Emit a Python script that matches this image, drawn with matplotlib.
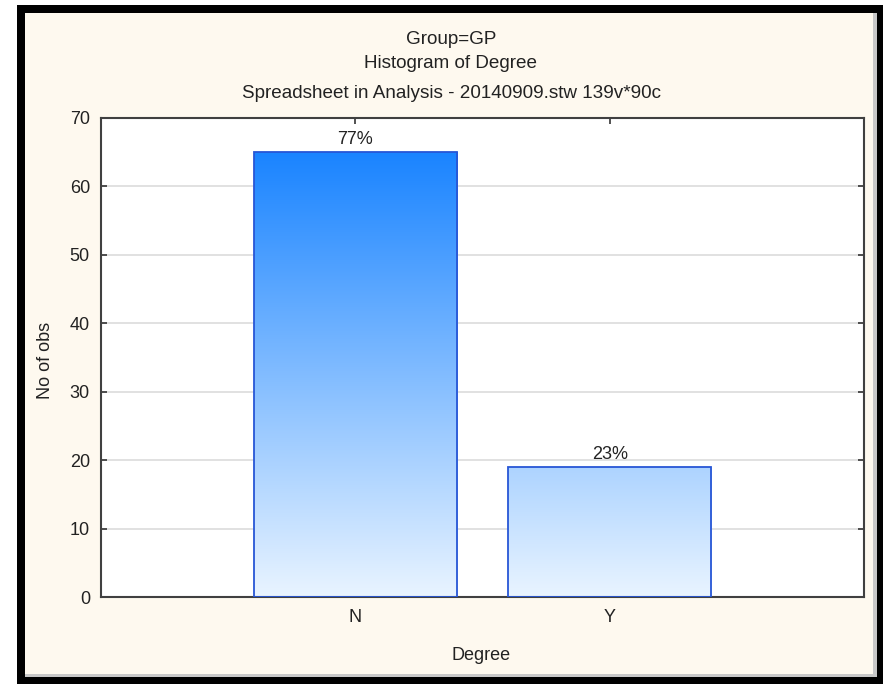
import matplotlib
matplotlib.use("Agg")
import matplotlib.pyplot as plt
import numpy as np
from matplotlib.colors import LinearSegmentedColormap
from matplotlib.patches import Rectangle

categories = ["N", "Y"]
counts = [65, 19]
percent_labels = ["77%", "23%"]
yticks = [0, 10, 20, 30, 40, 50, 60, 70]
title_lines = ["Group=GP", "Histogram of Degree",
               "Spreadsheet in Analysis - 20140909.stw 139v*90c"]

plt.rcParams['font.family'] = ['Liberation Sans', 'DejaVu Sans']
W, H = 883, 684
fig = plt.figure(figsize=(W / 100, H / 100), dpi=100)
fig.patch.set_facecolor('white')

def fx(px): return px / W
def fy(py): return 1 - py / H

# frame: black border, cream fill, shadow
fig.patches.append(Rectangle((fx(17), fy(684)), fx(883 - 17), (684 - 5) / H,
                             transform=fig.transFigure, facecolor='black', edgecolor='none', zorder=-3))
fig.patches.append(Rectangle((fx(25), fy(677)), fx(877 - 25), (677 - 13) / H,
                             transform=fig.transFigure, facecolor='#c8c8c8', edgecolor='none', zorder=-2))
fig.patches.append(Rectangle((fx(25), fy(674)), fx(873 - 25), (674 - 13) / H,
                             transform=fig.transFigure, facecolor='#fef9ef', edgecolor='none', zorder=-1))

ax = fig.add_axes([fx(101), fy(597), fx(864 - 101), (597 - 118) / H])
ax.set_zorder(1)
ax.set_facecolor('white')
x = np.arange(len(categories))
width = 0.8

cmap = LinearSegmentedColormap.from_list('g', ['#e9f4ff', '#1a84ff'])
grad = np.linspace(0, 1, 256).reshape(-1, 1)
gmax = max(counts)
bars = ax.bar(x, counts, width=width, facecolor='none', edgecolor='#2756d6', linewidth=1.3, zorder=3)
for b in bars:
    x0 = b.get_x()
    im = ax.imshow(grad, aspect='auto', cmap=cmap, origin='lower',
                   extent=[x0, x0 + b.get_width(), 0, gmax], zorder=2, interpolation='bilinear')
    im.set_clip_path(b)
ax.set_xlim(-1, 2)
ax.set_ylim(0, 70)

fs = 13
for xi, c, lab in zip(x, counts, percent_labels):
    ax.annotate(lab, (xi, c), xytext=(0, 3), textcoords='offset points',
                ha='center', va='bottom', fontsize=fs, color='#222222')

ax.set_yticks(yticks)
ax.set_xticks(x)
ax.set_xticklabels(categories)
ax.yaxis.grid(True, color='#dcdcdc', linewidth=1.2, zorder=1)
ax.set_axisbelow(True)
ax.tick_params(direction='in', length=4, width=1.2, color='#333333', top=True, right=True,
               labelsize=fs, labelcolor='#222222')
ax.tick_params(axis='y', pad=8)
ax.tick_params(axis='x', pad=9)
for s in ax.spines.values():
    s.set_color('#404040')
    s.set_linewidth(1.5)

fig.text(fx(481), fy(655), "Degree", ha='center', va='center', fontsize=fs, color='#222222')
fig.text(fx(45), fy(360), "No of obs", ha='center', va='center', rotation=90, fontsize=fs, color='#222222')
for yy, t in zip([39, 64, 93], title_lines):
    fig.text(fx(451), fy(yy), t, ha='center', va='center', fontsize=13.6, color='#222222')

fig.savefig('out.png', dpi=100, facecolor=fig.get_facecolor())
